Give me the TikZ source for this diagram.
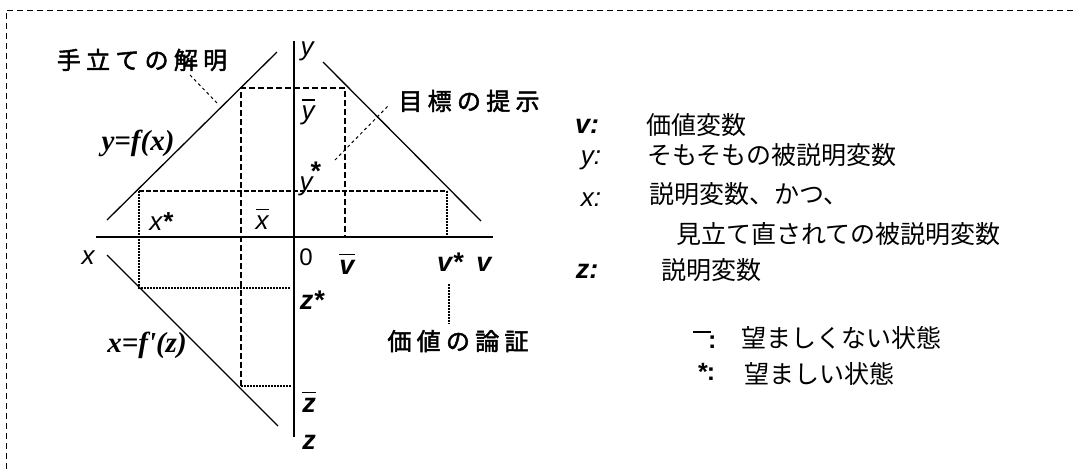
\documentclass[tikz,border=0pt]{standalone}
\usepackage{fontspec}
\setmainfont{Liberation Serif}
\setsansfont{Liberation Sans}
\newfontfamily\jp{Noto Sans CJK JP}
\newfontfamily\jpsp[LetterSpace=22,FakeBold=2]{Noto Sans CJK JP}
\newcommand\barred[1]{\leavevmode\vbox{\hrule height 1.5pt \kern 5pt \hbox{#1}}}
\begin{document}
\begin{tikzpicture}[x=1pt,y=-1pt,
  axisv/.style={line width=1.1pt},
  axish/.style={line width=2.6pt},
  curve/.style={line width=1.3pt},
  thickdash/.style={line width=2.4pt, dash pattern=on 6pt off 3pt},
  thindash/.style={line width=1.5pt, dash pattern=on 5pt off 2pt},
  dotline/.style={line width=1.7pt, dash pattern=on 1.5pt off 1.5pt},
  leader/.style={line width=1pt, dash pattern=on 3pt off 3pt},
  framedash/.style={line width=1pt, dash pattern=on 6pt off 4pt},
  var/.style={inner sep=0, font=\sffamily\itshape\fontsize{26}{26}\selectfont},
  bvar/.style={inner sep=0, font=\sffamily\bfseries\itshape\fontsize{27}{27}\selectfont},
  eqn/.style={inner sep=0, font=\rmfamily\bfseries\itshape\fontsize{29}{29}\selectfont},
  jlab/.style={inner sep=0, font=\jpsp\fontsize{24}{24}\selectfont},
  jleg/.style={inner sep=0, anchor=west, font=\jp\fontsize{25}{25}\selectfont},
]
\useasboundingbox (0,0) rectangle (1079,469);
% frame (top and left only)
\coordinate (ftl) at (6,10);
\coordinate (ftr) at (1073,10);
\coordinate (fbl) at (6,469);
\draw[framedash] (ftr) -- (ftl) -- (fbl);

% axes
\coordinate (vtop) at (294,41);
\coordinate (vbot) at (294,437);
\coordinate (hl) at (96,237);
\coordinate (hr) at (493,237);
\draw[axisv] (vtop) -- (vbot);
\draw[axish] (hl) -- (hr);

% curves
\coordinate (c1a) at (107,220); \coordinate (c1b) at (277,52);
\coordinate (c2a) at (323,62);  \coordinate (c2b) at (481,221);
\coordinate (c3a) at (107,255); \coordinate (c3b) at (278,426);
\draw[curve] (c1a) -- (c1b);
\draw[curve] (c2a) -- (c2b);
\draw[curve] (c3a) -- (c3b);

% bar (undesired) state: thick dashed
\coordinate (bTL) at (241,88);
\coordinate (bTR) at (345,88);
\coordinate (bR) at (345,237);
\coordinate (bL) at (241,386);
\coordinate (bZ) at (291,386);
\draw[thickdash] (bL) -- (bTL) -- (bTR) -- (bR);
\draw[dotline, line width=1.2pt] (bL) -- (bZ);

% star (desired) state
\coordinate (sL) at (139,191);
\coordinate (sR) at (447,191);
\coordinate (sLd) at (139,288);
\coordinate (sZ) at (291,288);
\coordinate (sRd) at (447,237);
\draw[thindash] (sL) -- (sR);
\draw[dotline] (sL) -- (sLd) -- (sZ);
\draw[dotline] (sR) -- (sRd);

% axis labels
\node[var] (ly) at (307,51) {y};
\node[var] (lybar) at (308,112) {\barred{y}};
\node[var] (lystar) at (306,186) {y};
\node[inner sep=0, font=\sffamily\bfseries\fontsize{27}{27}\selectfont] (lystarS) at (316,171) {*};
\node[var] (lxstar) at (161,222) {x{\bfseries *}};
\node[var] (lxbar) at (262,219) {\barred{x}};
\node[var] (lx) at (88,258) {x};
\node[inner sep=0, font=\sffamily\fontsize{24}{24}\selectfont] (l0) at (306,257) {0};
\node[bvar] (lvbar) at (347,264) {\barred{v}};
\node[bvar] (lvstar) at (450,262) {v*};
\node[bvar] (lv) at (484,264) {v};
\node[bvar] (lzstar) at (312,300) {z*};
\node[bvar] (lzbar) at (309,402) {\barred{z}};
\node[bvar] (lz) at (309,442) {z};

% equations
\node[eqn] (eq1) at (138,143) {y=f(x)};
\node[eqn] (eq2) at (147,345) {x=f\textquotesingle(z)};

% annotations
\node[jlab] (tedate) at (142,60) {手立ての解明};
\node[jlab] (mokuhyo) at (469,101) {目標の提示};
\node[jlab] (kachi) at (458,341) {価値の論証};
\coordinate (t1) at (190,75); \coordinate (t2) at (217,103);
\coordinate (m1) at (335,160); \coordinate (m2) at (388,106);
\coordinate (k1) at (449,284); \coordinate (k2) at (449,324);
\draw[leader] (t1) -- (t2);
\draw[leader] (m1) -- (m2);
\draw[dotline, line width=1.4pt] (k1) -- (k2);

% legend
\node[bvar] (gv) at (587,126) {v:};
\node[jleg] (gvt) at (646,125) {価値変数};
\node[var] (gy) at (591,160) {y:};
\node[jleg] (gyt) at (647,155) {そもそもの被説明変数};
\node[var] (gx) at (591,200) {x:};
\node[jleg] (gxt) at (649,194) {説明変数、かつ、};
\node[jleg] (gxt2) at (676,234) {見立て直されての被説明変数};
\node[bvar] (gz) at (587,271) {z:};
\node[jleg] (gzt) at (661,270) {説明変数};
\node[inner sep=0, anchor=west, font=\sffamily\bfseries\fontsize{25}{25}\selectfont] (gbar) at (693,340) {\raisebox{16pt}{\rule{18pt}{1.6pt}}\kern-3pt:};
\node[jleg] (gbart) at (741,338) {望ましくない状態};
\node[inner sep=0, anchor=west, font=\sffamily\bfseries\fontsize{25}{25}\selectfont] (gstar) at (698,372) {*\kern-1pt:};
\node[jleg] (gstart) at (744,374) {望ましい状態};
\end{tikzpicture}
\end{document}
